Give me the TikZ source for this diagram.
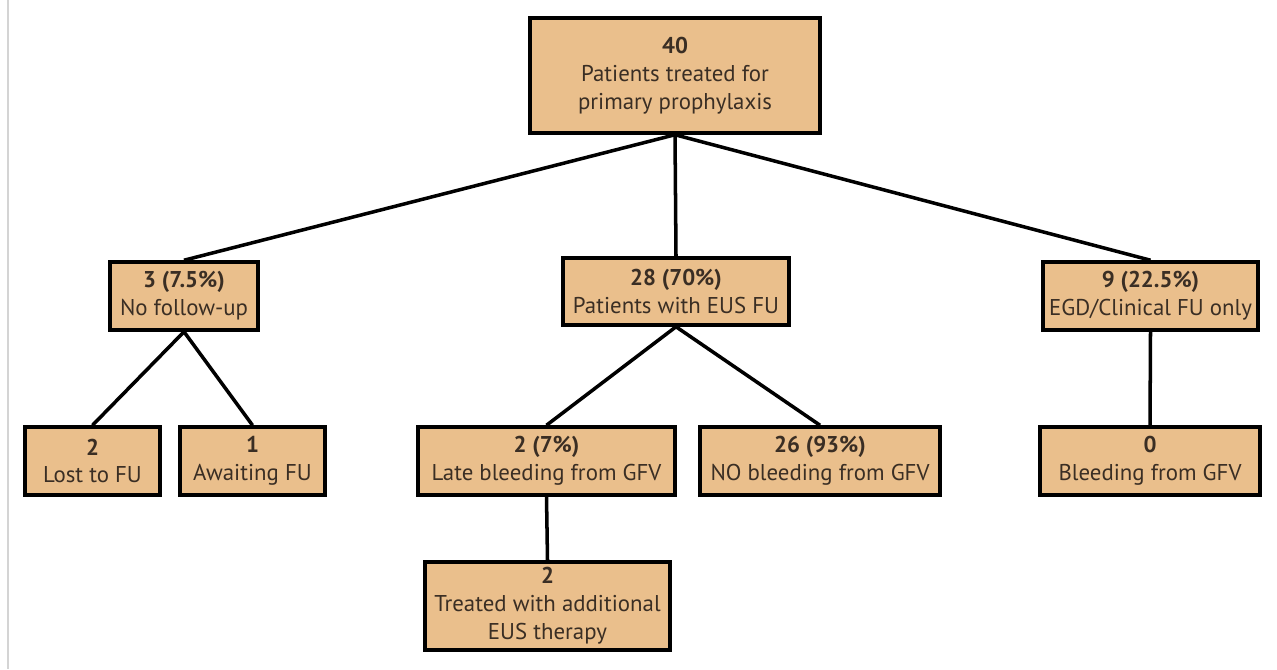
\documentclass[tikz,border=0pt]{standalone}
\usepackage{fontspec}
\setmainfont{PT Sans}
\usepackage{tikz}
\usetikzlibrary{positioning}
\definecolor{boxfill}{HTML}{EABF8C}
\definecolor{boxtext}{HTML}{3A2E24}
\definecolor{edgegray}{HTML}{D4D4D4}
\tikzset{
  flowbox/.style={draw=black, line width=2pt, fill=boxfill, align=center,
    text=boxtext, inner sep=0pt, font=\fontsize{13}{15.9}\selectfont},
  link/.style={line width=2pt, draw=black}
}

\begin{document}
\begin{tikzpicture}[x=0.02cm,y=-0.02cm]
  \useasboundingbox (0,0) rectangle (1277,669);
  \draw[edgegray, line width=0.8pt] (8,0) -- (8,669);
  % boxes: name/x/y/width/height/text
  \foreach \nm/\cx/\cy/\w/\h/\txt in {
      top/675/75.5/290/115/{\textbf{40}\\Patients treated for\\primary prophylaxis},
      nofu/184/296/148/68/{\textbf{3 (7.5\%)}\\No follow-up},
      eus/676/291.5/226/67/{\textbf{28 (70\%)}\\Patients with EUS FU},
      egd/1150.5/296/215/68/{\textbf{9 (22.5\%)}\\EGD/Clinical FU only},
      lost/92.5/461/135/68/{\textbf{2}\\Lost to FU},
      await/252.5/461/145/68/{\textbf{1}\\Awaiting FU},
      late/546.5/461/257/68/{\textbf{2 (7\%)}\\Late bleeding from GFV},
      nobleed/820/461/240/68/{\textbf{26 (93\%)}\\NO bleeding from GFV},
      zero/1150/461/220/68/{\textbf{0}\\Bleeding from GFV},
      treated/547.5/606/245/88/{\textbf{2}\\Treated with additional\\EUS therapy}} {
    \node[flowbox, minimum width=\w*0.02cm, minimum height=\h*0.02cm] (\nm) at (\cx,\cy) {\txt};
  }
  % connectors
  \foreach \a/\b in {top/nofu, top/eus, top/egd, nofu/lost, nofu/await,
      eus/late, eus/nobleed, late/treated} {
    \draw[link] (\a.south) -- (\b.north);
  }
  \draw[link] (egd.south) -- (zero.north);
\end{tikzpicture}
\end{document}
